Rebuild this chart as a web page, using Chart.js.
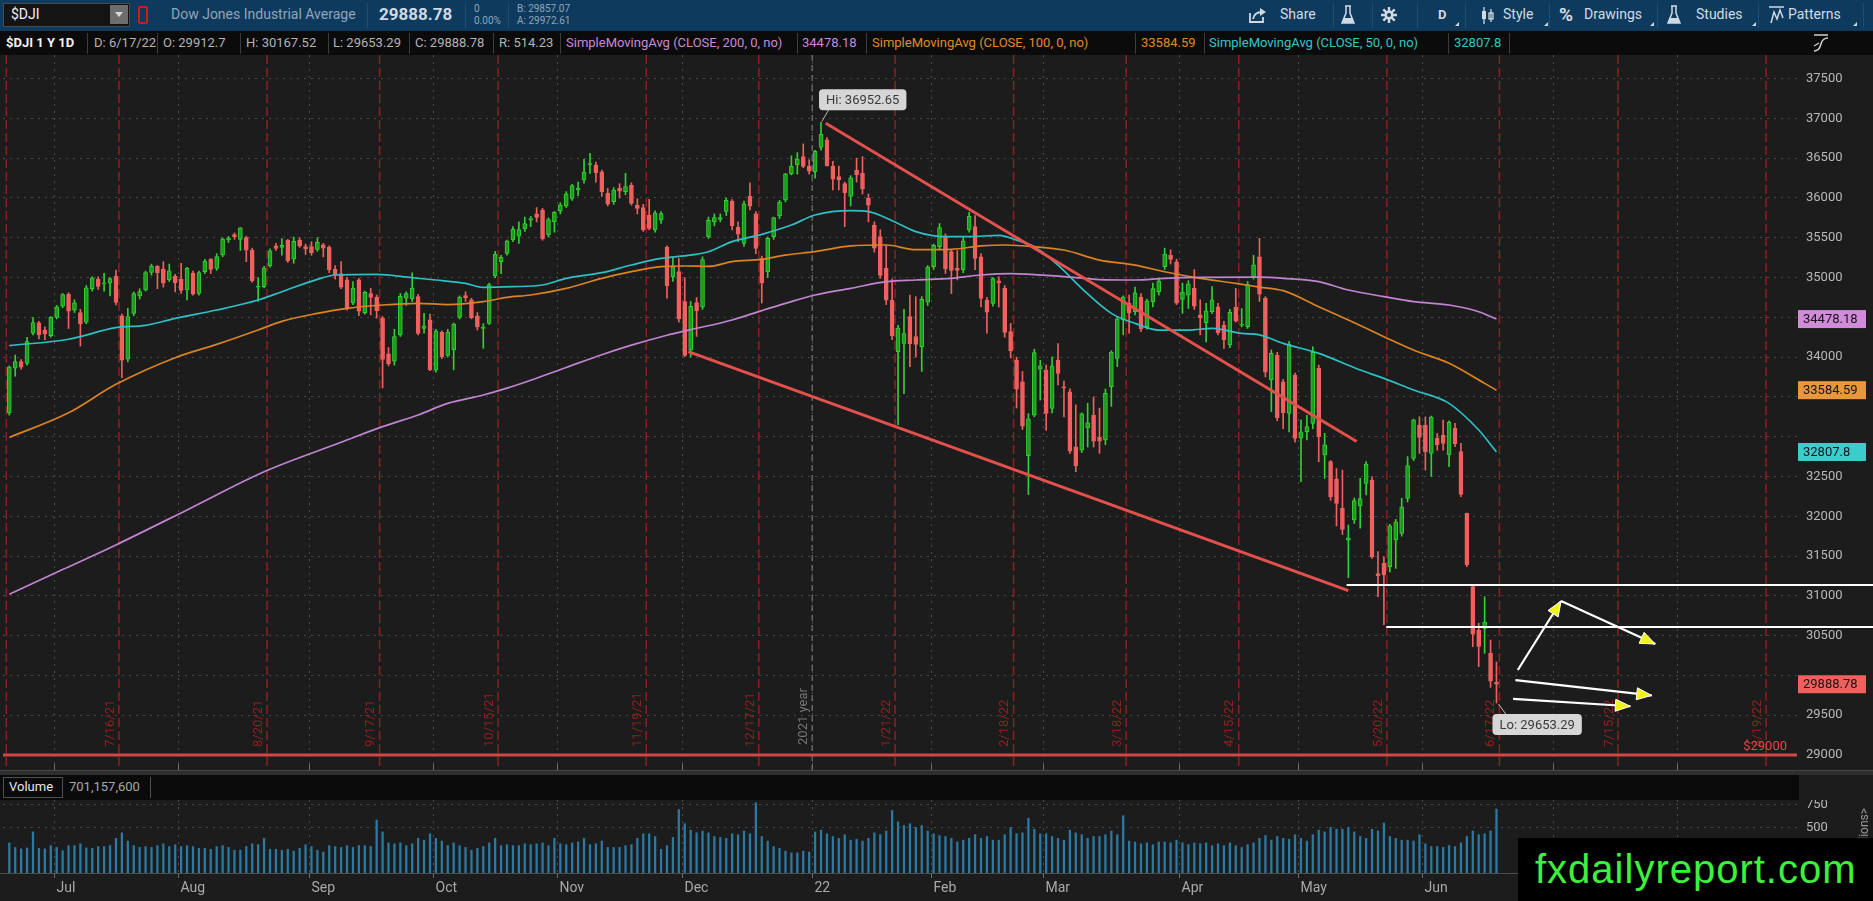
<!DOCTYPE html>
<html>
<head>
<meta charset="utf-8">
<title>$DJI 1 Y 1D</title>
<script src="https://cdn.jsdelivr.net/npm/chart.js"></script>
<style>
  html, body { margin: 0; padding: 0; }
  body { width: 1873px; height: 901px; background: #1c1c1c; overflow: hidden; position: relative;
         font-family: Roboto, "Open Sans", sans-serif; }
  .a { position: absolute; white-space: nowrap; }
  #bar1 { position: absolute; left: 0; top: 0; width: 1873px; height: 31px; background: #0e3a5d; }
  #bar2 { position: absolute; left: 0; top: 31px; width: 1873px; height: 24px; background: #0b0b0b; }
  #bar1 .t { color: #8fa6bc; font-size: 14px; top: 6px; }
  #bar1 .s { color: #8fa6bc; font-size: 10px; }
  #bar1 .r { color: #d2dbe4; font-size: 14px; top: 6px; }
  .sep1 { position: absolute; top: 3px; width: 1px; height: 25px; background: #1f4d72; }
  .tri { position: absolute; top: 22px; width: 0; height: 0; border-left: 4px solid transparent; border-bottom: 4px solid #cfd9e3; }
  #bar2 .c { top: 4px; font-size: 13px; color: #b4b4b4; }
  .sep2 { position: absolute; top: 2px; width: 1px; height: 21px; background: #3c3c3c; }
  #volhead { position: absolute; left: 0; top: 775px; width: 1799px; height: 25px; background: #0a0a0a; }
  #wm { position: absolute; left: 1518px; top: 838px; width: 355px; height: 63px; background: #000;
        color: #3cf23c; font-family: "Liberation Sans", Arial, sans-serif; font-size: 40px; letter-spacing: 1px;
        line-height: 63px; text-indent: 17px; z-index: 5; }
</style>
</head>
<body>

<div id="bar1">
  <div class="a" style="left:3px;top:3px;width:125px;height:22px;background:#141414;border:1px solid #4a4a4a;"></div>
  <span class="a" style="left:11px;top:6px;color:#f0f0f0;font-size:14px;">$DJI</span>
  <div class="a" style="left:110px;top:5px;width:18px;height:19px;background:#6d6d6d;"></div>
  <div class="a" style="left:115px;top:12px;width:0;height:0;border-left:4px solid transparent;border-right:4px solid transparent;border-top:5px solid #d8d8d8;"></div>
  <div class="a" style="left:138px;top:6px;width:6px;height:14px;border:2px solid #c81e1e;border-radius:2px;"></div>
  <span class="a t" style="left:171px;">Dow Jones Industrial Average</span>
  <div class="sep1" style="left:367px"></div>
  <span class="a" style="left:379px;top:4px;color:#cfd9e3;font-size:17px;font-weight:bold;">29888.78</span>
  <div class="sep1" style="left:465px"></div>
  <span class="a s" style="left:474px;top:3px;">0</span>
  <span class="a s" style="left:474px;top:15px;">0.00%</span>
  <div class="sep1" style="left:508px"></div>
  <span class="a s" style="left:517px;top:3px;">B: 29857.07</span>
  <span class="a s" style="left:517px;top:15px;">A: 29972.61</span>

  <svg class="a" style="left:1248px;top:7px" width="20" height="17" viewBox="0 0 20 17">
    <path d="M2 6 V15 H15 V10" stroke="#cfd9e3" stroke-width="1.8" fill="none"/>
    <path d="M5 12 C6 7 9 5 14 5" stroke="#cfd9e3" stroke-width="1.8" fill="none"/>
    <path d="M12 1 L18 5 L12 9 Z" fill="#cfd9e3"/>
  </svg>
  <span class="a r" style="left:1280px;">Share</span>
  <div class="sep1" style="left:1333px"></div>
  <svg class="a" style="left:1341px;top:5px" width="14" height="20" viewBox="0 0 14 20">
    <path d="M4 1 H10 M5 1 V8 L1 18 H13 L9 8 V1" stroke="#cfd9e3" stroke-width="1.5" fill="none"/>
    <path d="M3 13 H11 L13 18 H1 Z" fill="#cfd9e3"/>
  </svg>
  <div class="sep1" style="left:1372px"></div>
  <svg class="a" style="left:1381px;top:7px" width="16" height="16" viewBox="0 0 16 16">
    <g stroke="#cfd9e3" stroke-width="2.4"><path d="M8 0V16M0 8H16M2.3 2.3L13.7 13.7M13.7 2.3L2.3 13.7"/></g>
    <circle cx="8" cy="8" r="4.5" fill="#cfd9e3"/><circle cx="8" cy="8" r="2" fill="#0e3a5d"/>
  </svg>
  <div class="sep1" style="left:1417px"></div>
  <span class="a r" style="left:1438px;font-weight:bold;font-size:13px;top:7px;">D</span>
  <div class="tri" style="left:1455px"></div>
  <div class="sep1" style="left:1465px"></div>
  <svg class="a" style="left:1480px;top:7px" width="16" height="17" viewBox="0 0 16 17">
    <path d="M4 0V17M11 2V15" stroke="#cfd9e3" stroke-width="1.3"/>
    <rect x="2" y="4" width="4" height="8" fill="#cfd9e3"/><rect x="9" y="6" width="4" height="6" fill="none" stroke="#cfd9e3" stroke-width="1.3"/>
  </svg>
  <span class="a r" style="left:1503px;">Style</span>
  <div class="tri" style="left:1544px"></div>
  <div class="sep1" style="left:1549px"></div>
  <span class="a r" style="left:1559px;top:3px;font-size:19px;font-weight:bold;">%</span>
  <span class="a r" style="left:1584px;">Drawings</span>
  <div class="tri" style="left:1650px"></div>
  <div class="sep1" style="left:1657px"></div>
  <svg class="a" style="left:1667px;top:5px" width="14" height="20" viewBox="0 0 14 20">
    <path d="M4 1 H10 M5 1 V8 L1 18 H13 L9 8 V1" stroke="#cfd9e3" stroke-width="1.5" fill="none"/>
    <path d="M3 13 H11 L13 18 H1 Z" fill="#cfd9e3"/>
  </svg>
  <span class="a r" style="left:1696px;">Studies</span>
  <div class="tri" style="left:1752px"></div>
  <div class="sep1" style="left:1758px"></div>
  <svg class="a" style="left:1768px;top:6px" width="17" height="18" viewBox="0 0 17 18">
    <path d="M1 1H16M3 17L6 6L9 13L12 4L15 12" stroke="#cfd9e3" stroke-width="1.5" fill="none"/>
  </svg>
  <span class="a r" style="left:1788px;">Patterns</span>
  <div class="tri" style="left:1853px"></div>
  <div class="sep1" style="left:1863px"></div>
</div>

<div id="bar2">
  <span class="a c" style="left:6px;color:#f2f2f2;font-weight:bold;">$DJI 1 Y 1D</span>
  <div class="sep2" style="left:87px"></div>
  <span class="a c" style="left:94px;">D: 6/17/22</span>
  <div class="sep2" style="left:157px"></div>
  <span class="a c" style="left:163px;">O: 29912.7</span>
  <div class="sep2" style="left:240px"></div>
  <span class="a c" style="left:246px;">H: 30167.52</span>
  <div class="sep2" style="left:328px"></div>
  <span class="a c" style="left:333px;">L: 29653.29</span>
  <div class="sep2" style="left:409px"></div>
  <span class="a c" style="left:415px;">C: 29888.78</span>
  <div class="sep2" style="left:493px"></div>
  <span class="a c" style="left:499px;">R: 514.23</span>
  <div class="sep2" style="left:560px"></div>
  <span class="a c" style="left:566px;color:#c98ad6;">SimpleMovingAvg (CLOSE, 200, 0, no)</span>
  <div class="sep2" style="left:797px"></div>
  <span class="a c" style="left:802px;color:#c98ad6;">34478.18</span>
  <div class="sep2" style="left:866px"></div>
  <span class="a c" style="left:872px;color:#e08a2c;">SimpleMovingAvg (CLOSE, 100, 0, no)</span>
  <div class="sep2" style="left:1135px"></div>
  <span class="a c" style="left:1141px;color:#e08a2c;">33584.59</span>
  <div class="sep2" style="left:1204px"></div>
  <span class="a c" style="left:1209px;color:#36c6c8;">SimpleMovingAvg (CLOSE, 50, 0, no)</span>
  <div class="sep2" style="left:1448px"></div>
  <span class="a c" style="left:1454px;color:#36c6c8;">32807.8</span>
  <div class="sep2" style="left:1509px"></div>
  <svg class="a" style="left:1812px;top:3px" width="18" height="18" viewBox="0 0 18 18">
    <path d="M2 1H16M2 17C6 17 8 14 9 10C10 6 12 4 16 4" stroke="#d0d0d0" stroke-width="1.5" fill="none"/>
    <path d="M2 12L7 9" stroke="#d0d0d0" stroke-width="1.2"/>
  </svg>
</div>

<canvas id="price" class="a" style="left:0;top:55px" width="1873" height="715"></canvas>
<div class="a" style="left:0;top:770px;width:1873px;height:5px;background:#2e2e2e;border-top:1px solid #474747;box-sizing:border-box;"></div>

<div id="volhead">
  <div class="a" style="left:3px;top:2px;width:60px;height:21px;border:1px solid #505050;box-sizing:border-box;"></div>
  <span class="a" style="left:9px;top:4px;color:#e6e6e6;font-size:13px;">Volume</span>
  <span class="a" style="left:69px;top:4px;color:#a8a8a8;font-size:13px;">701,157,600</span>
  <div class="a" style="left:150px;top:2px;width:1px;height:21px;background:#505050;"></div>
</div>
<canvas id="vol" class="a" style="left:0;top:800px" width="1873" height="101"></canvas>

<div id="wm">fxdailyreport.com</div>

<script>
// ---------- data ----------
const sessions = [
  [2021, 6, [21,22,23,24,25,28,29,30]],
  [2021, 7, [1,2,6,7,8,9,12,13,14,15,16,19,20,21,22,23,26,27,28,29,30]],
  [2021, 8, [2,3,4,5,6,9,10,11,12,13,16,17,18,19,20,23,24,25,26,27,30,31]],
  [2021, 9, [1,2,3,7,8,9,10,13,14,15,16,17,20,21,22,23,24,27,28,29,30]],
  [2021, 10, [1,4,5,6,7,8,11,12,13,14,15,18,19,20,21,22,25,26,27,28,29]],
  [2021, 11, [1,2,3,4,5,8,9,10,11,12,15,16,17,18,19,22,23,24,26,29,30]],
  [2021, 12, [1,2,3,6,7,8,9,10,13,14,15,16,17,20,21,22,23,27,28,29,30,31]],
  [2022, 1, [3,4,5,6,7,10,11,12,13,14,18,19,20,21,24,25,26,27,28,31]],
  [2022, 2, [1,2,3,4,7,8,9,10,11,14,15,16,17,18,22,23,24,25,28]],
  [2022, 3, [1,2,3,4,7,8,9,10,11,14,15,16,17,18,21,22,23,24,25,28,29,30,31]],
  [2022, 4, [1,4,5,6,7,8,11,12,13,14,18,19,20,21,22,25,26,27,28,29]],
  [2022, 5, [2,3,4,5,6,9,10,11,12,13,16,17,18,19,20,23,24,25,26,27,31]],
  [2022, 6, [1,2,3,6,7,8,9,10,13,14,15,16,17]]
];
const days = sessions.flatMap(([y, m, ds]) => ds.map(d => m + '/' + d + '/' + String(y).slice(2)));

const opens = [
  33300,33860,33943,33920,34300,34430,34340,34270,34500,34640,
  34790,34590,34560,34440,34860,34980,34920,34930,35019,34520,
  33973,34550,34770,34843,35065,35140,35107,34970,35019,34980,
  34843,35053,34801,35074,35229,35116,35283,35472,35540,35480,
  35501,35346,34880,34885,35145,35400,35380,35470,35230,35470,
  35390,35390,35355,35410,35380,35103,35050,34970,34680,34970,
  34560,34800,34750,34490,34040,33950,34280,34740,34730,34760,
  34360,34470,33840,34310,34020,34089,34500,34775,34720,34520,
  34360,34424,35020,35200,35304,35472,35520,35610,35720,35800,
  35849,35535,35700,35833,35900,35996,36100,36226,36415,36415,
  36330,36060,35954,36120,36080,36160,35912,35880,35786,35600,
  35720,35380,35011,35075,34697,34090,34685,34630,35514,35700,
  35730,35830,35960,35630,35430,36020,35800,35240,35074,35514,
  35774,35975,36301,36414,36520,36400,36330,36636,36730,36400,
  36270,36180,36020,36350,36310,36000,35660,35514,35116,34718,
  34068,34173,34508,34257,34130,34690,35137,35388,35505,35325,
  35116,35100,35598,35640,35262,34718,34676,34960,34864,34320,
  33963,33691,32760,33272,33850,33838,33356,33963,33628,33565,
  32874,32832,33110,33272,32991,32958,33628,33984,34466,34675,
  34571,34751,34382,34697,34822,35136,35283,35199,34726,34780,
  34864,34529,34432,34571,34633,34403,34152,34625,34400,34382,
  35010,35262,34739,33712,34027,33691,33293,33775,32980,33063,
  33168,33859,32770,32686,32470,32100,31700,31953,32129,32414,
  32456,31280,31408,31366,31702,31785,32225,32728,33147,33147,
  32791,32979,33021,32770,33105,32812,32037,31115,30571,30590,
  30277,29912.7
];
const highs = [
  33890,34026,33970,34250,34496,34450,34380,34510,34650,34800,
  34810,34720,34600,34900,35010,35010,35053,35000,35095,34540,
  34613,34820,34860,35080,35170,35150,35200,35170,35040,35180,
  35130,35080,35080,35230,35240,35300,35500,35515,35560,35630,
  35520,35370,35000,35140,35360,35430,35490,35480,35510,35500,
  35420,35450,35500,35430,35400,35150,35200,35000,34950,34990,
  34830,34864,34780,34510,34120,34350,34800,34820,35060,34790,
  34550,34540,34350,34330,34350,34430,34770,34820,34740,34560,
  34420,34930,35330,35280,35470,35640,35700,35760,35770,35880,
  35870,35750,35830,35940,36080,36170,36200,36485,36560,36450,
  36350,36120,36130,36180,36310,36190,35990,35920,35983,35840,
  35830,35400,35250,35240,35000,34700,34750,35260,35760,35800,
  35800,36000,35980,35700,35960,36190,35830,35270,35510,35760,
  35970,36310,36530,36570,36680,36480,36600,36952.65,36760,36460,
  36400,36200,36280,36500,36520,36050,35700,35600,35400,34980,
  34400,34600,34780,34760,34760,35150,35420,35680,35550,35350,
  35340,35500,35820,35780,35300,34750,35000,35010,34900,34424,
  34000,33820,33290,34100,33960,33900,34005,34170,33700,33600,
  33400,33300,33420,33500,33360,33600,34080,34500,34770,34780,
  34880,34800,34730,34930,34990,35370,35350,35230,34930,34960,
  35100,34720,34675,34885,34675,34450,34600,34864,34610,34950,
  35280,35493,34760,34090,34060,33720,34200,33800,33210,33270,
  34130,33900,33042,32700,32600,32580,31890,32230,32476,32686,
  32500,31555,31490,31900,31960,32225,32750,33220,33250,33250,
  33260,33040,33210,33200,33168,32917,32040,31120,30655,30990,
  30444,30167.52
];
const lows = [
  33271,33760,33850,33900,34280,34230,34220,34250,34480,34620,
  34360,34560,34140,34420,34830,34850,34830,34770,34655,33741,
  33940,34520,34730,34830,35030,34860,34880,34950,34820,34800,
  34720,34780,34780,35050,35050,35090,35260,35440,35480,35340,
  35200,34940,34700,34870,35130,35340,35280,35190,35180,35380,
  35290,35280,35330,35260,35060,34980,34860,34590,34660,34520,
  34540,34530,34490,33613,33890,33900,34260,34650,34700,34280,
  34300,33830,33810,33980,34000,33840,34480,34700,34480,34340,
  34110,34410,35000,35050,35280,35450,35430,35580,35640,35700,
  35470,35510,35570,35800,35880,35970,36030,36185,36310,36200,
  36020,35900,35920,36000,36040,35910,35800,35580,35600,35570,
  35680,34740,34950,34440,34006,34000,34260,34600,35490,35650,
  35700,35780,35600,35450,35390,35850,35300,34680,35000,35480,
  35740,35950,36290,36300,36380,36300,36250,36600,36400,36100,
  36100,35640,35900,36200,36050,35700,35320,34990,34660,34220,
  33150,33540,33880,34000,33820,34650,35100,35350,35050,34800,
  34970,35060,35570,35100,34630,34300,34640,34630,34250,33990,
  33360,33090,32272,33250,33460,33080,33300,33650,33250,32790,
  32560,32800,32870,32870,32790,32900,33380,33880,34280,34300,
  34530,34320,34350,34630,34780,35100,35170,34660,34550,34610,
  34600,34280,34190,34550,34280,34110,34120,34440,34380,34360,
  34980,34700,33750,33315,33200,33100,33060,32930,32435,32960,
  33100,32686,32477,32200,31878,31770,31228,31910,31850,32267,
  31470,30990,30636,31300,31345,31750,32180,32700,32790,32580,
  32500,32830,32830,32623,32875,32245,31367,30361,30110,30277,
  29850,29653.29
];
const closes = [
  33876,33945,33874,34196,34433,34283,34292,34502,34633,34786,
  34577,34681,34421,34870,34996,34888,34933,34987,34687,33962,
  34511,34798,34823,35061,35144,35058,34930,35084,34935,34838,
  35116,34792,35064,35208,35101,35264,35484,35499,35515,35625,
  35343,34960,34894,35120,35335,35366,35405,35213,35455,35399,
  35360,35312,35443,35369,35100,35031,34879,34607,34869,34577,
  34814,34751,34584,33970,33919,34258,34764,34798,34869,34299,
  34390,33843,34326,34002,34314,34416,34754,34746,34496,34378,
  34377,34912,35294,35258,35457,35609,35603,35677,35741,35756,
  35490,35730,35819,35913,36052,36157,36124,36327,36432,36319,
  36079,35921,36100,36087,36142,35931,35870,35601,35619,35813,
  35804,34899,35135,34483,34022,34639,34580,35227,35719,35754,
  35754,35971,35650,35544,35927,35897,35365,34932,35492,35753,
  35950,36302,36398,36488,36398,36338,36585,36799,36407,36236,
  36231,36068,36252,36290,36113,35911,35368,35028,34715,34265,
  34364,34297,34168,34160,34725,35131,35405,35629,35111,35089,
  35091,35462,35768,35241,34738,34566,34988,34934,34312,34079,
  33596,33131,33223,34058,33892,33294,33891,33794,33614,32817,
  32632,33286,33174,32944,32945,33544,34063,34480,34754,34553,
  34807,34358,34707,34861,34955,35294,35228,34678,34818,34921,
  34641,34496,34583,34721,34308,34220,34564,34451,34411,34911,
  35160,34792,33811,34049,33240,33301,34160,32977,33061,33128,
  34061,32998,32899,32245,32160,31834,31730,32197,32223,32655,
  31490,31253,31262,31880,31929,32120,32637,33213,32990,32813,
  33248,32900,32916,33180,32911,32273,31393,30517,30365,30669,
  29927,29888.78
];
// volume, millions of shares
const volumes = [
  330,280,265,275,450,270,265,300,280,245,
  300,300,320,275,270,290,290,300,380,440,
  350,300,280,290,280,300,320,290,310,290,
  300,290,270,270,260,290,300,280,250,250,
  290,320,310,380,260,260,250,260,240,270,
  310,290,250,230,300,290,280,300,280,300,
  300,290,580,450,330,320,330,300,320,380,
  360,430,380,350,300,330,300,280,250,270,
  290,330,380,300,310,300,300,320,310,320,
  330,300,380,320,310,330,340,380,310,320,
  350,280,280,280,300,310,380,430,430,400,
  260,300,390,695,540,470,440,460,440,400,
  390,380,430,420,460,430,770,400,350,290,
  270,240,220,220,240,230,450,470,430,400,
  380,420,360,370,350,380,440,420,460,685,
  560,520,540,500,520,460,430,410,400,380,
  340,360,380,420,380,400,360,360,420,500,
  430,440,600,480,430,430,400,380,360,470,
  440,420,380,400,400,420,460,420,628,350,
  340,320,330,310,340,340,330,360,330,310,
  330,320,330,300,320,300,330,300,280,310,
  330,380,410,360,400,380,370,420,380,350,
  420,470,450,500,480,480,500,450,400,380,
  480,460,547,400,380,360,360,350,420,320,
  290,290,280,300,290,330,400,460,420,430,
  460,701.16
];

// moving averages: [bar, value]
const sma200 = [[0,31020],[9,31330],[18,31640],[30,32080],[43,32560],[56,32930],[63,33126],
  [69,33273],[74,33419],[80,33524],[84,33610],[88,33710],[94,33870],[100,34030],[105,34150],[111,34275],
  [115,34345],[122,34467],[127,34585],[131,34676],[136,34781],[142,34865],[148,34948],[153,34969],
  [159,34990],[164,35032],[169,35050],[178,35011],[184,34975],[190,34969],[195,34990],[201,35002],
  [211,35005],[215,34990],[221,34948],[226,34843],[232,34760],[237,34697],[243,34655],[248,34571],[251,34478.18]];
const sma100 = [[0,32990],[10,33300],[18,33658],[28,33993],[35,34160],[42,34341],[46,34450],[52,34550],
  [57,34613],[63,34655],[69,34676],[74,34660],[80,34697],[84,34751],[88,34781],[94,34864],[100,34990],
  [105,35074],[110,35137],[114,35145],[118,35140],[122,35200],[127,35229],[131,35283],[136,35325],
  [142,35397],[148,35409],[153,35350],[159,35355],[164,35397],[168,35409],[173,35388],[178,35346],
  [184,35220],[190,35157],[195,35073],[201,34990],[207,34927],[211,34880],[215,34835],[221,34634],
  [226,34466],[232,34257],[237,34089],[243,33922],[249,33670],[251,33584.59]];
const sma50 = [[0,34145],[10,34225],[18,34370],[23,34400],[28,34487],[35,34592],[42,34718],[46,34822],
  [52,34977],[55,35032],[62,35040],[68,34998],[72,34969],[77,34927],[80,34877],[85,34885],[90,34906],
  [94,34990],[100,35061],[105,35158],[110,35241],[115,35283],[118,35325],[122,35451],[127,35543],
  [132,35660],[136,35786],[142,35840],[145,35828],[149,35715],[153,35577],[158,35514],[162,35514],
  [167,35530],[170,35470],[173,35388],[177,35157],[181,34864],[186,34550],[190,34424],[194,34340],
  [199,34340],[203,34361],[208,34298],[211,34280],[215,34173],[221,34047],[228,33838],[232,33733],
  [237,33587],[243,33419],[248,33084],[251,32807.8]];

// drawings: [bar, price]
const upperTrend = [[137.8, 36940], [227.4, 32940]];
const lowerTrend = [[114.6, 34069], [226, 31065]];
const supportFrom = [225.7, 232.4];
const supportPrice = [31140, 30610];
const arrowPath = [[254.6, 30068], [261.9, 30935], [277.8, 30394]];
const arrowA = [[254.2, 29940], [277.2, 29748]];
const arrowB = [[253.8, 29705], [273.6, 29612]];

// option expiration markers
const expiries = ['6/18/21','7/16/21','8/20/21','9/17/21','10/15/21','11/19/21','12/17/21','1/21/22',
                  '2/18/22','3/18/22','4/15/22','5/20/22','6/17/22','7/15/22','8/19/22'];
const expiryBar = [-1, 18, 43, 62, 82, 107, 126, 149, 169, 188, 207, 232, 251, 271, 296];
const yearBar = 135.5;
const priceLevel = 29000;

// axis
const priceTicks = [29000,29500,30000,30500,31000,31500,32000,32500,33000,33500,34000,34500,35000,35500,36000,36500,37000,37500];
const volTicks = [500, 750];
const monthNames = ['22','Feb','Mar','Apr','May','Jun','Jul','Aug','Sep','Oct','Nov','Dec'];
const futureMonths = [[260.5, 'Jul'], [281.5, 'Aug']];
const markValues = [34478.18, 33584.59, 32807.8, 29888.78];

// ---------- styles ----------
const markColors = ['#d08bd9', '#e9973d', '#3ccccc', '#f2605d'];
const UP = '#1c9c1c', UP_EDGE = '#33cf33', DOWN = '#f0605e';
const X_MIN = -1.063, X_MAX = 301.72;
const FONT = 'Roboto, "Open Sans", sans-serif';

Chart.defaults.font.family = FONT;
Chart.defaults.color = '#b8b8b8';

const monthTicks = [];
for (let i = 1; i < days.length; i++) {
  const m = +days[i].split('/')[0], pm = +days[i - 1].split('/')[0];
  if (m !== pm) monthTicks.push([i - 0.5, monthNames[m - 1]]);
}
futureMonths.forEach(f => monthTicks.push(f));

const isUp = i => closes[i] >= opens[i];
const pts = arr => arr.map(p => ({ x: p[0], y: p[1] }));
// right axis: fixed width, no extra vertical padding
const fitAxis = s => { s.width = 76; s.paddingTop = 0; s.paddingBottom = 0; };

function arrow(ctx, x1, y1, x2, y2, head) {
  ctx.strokeStyle = '#ffffff'; ctx.lineWidth = 2.2; ctx.setLineDash([]);
  ctx.beginPath(); ctx.moveTo(x1, y1); ctx.lineTo(x2, y2); ctx.stroke();
  if (!head) return;
  const a = Math.atan2(y2 - y1, x2 - x1), L = 15, W = 6;
  ctx.beginPath();
  ctx.moveTo(x2, y2);
  ctx.lineTo(x2 - L * Math.cos(a) + W * Math.sin(a), y2 - L * Math.sin(a) - W * Math.cos(a));
  ctx.lineTo(x2 - L * Math.cos(a) - W * Math.sin(a), y2 - L * Math.sin(a) + W * Math.cos(a));
  ctx.closePath();
  ctx.fillStyle = '#f3f31c'; ctx.fill();
  ctx.lineWidth = 1; ctx.stroke();
}

function bubble(ctx, text, left, top) {
  ctx.font = '13px ' + FONT;
  const w = ctx.measureText(text).width + 14, h = 21;
  ctx.fillStyle = '#d6d6d6';
  ctx.beginPath(); ctx.roundRect(left, top, w, h, 4); ctx.fill();
  ctx.fillStyle = '#3a3a3a'; ctx.textAlign = 'left'; ctx.textBaseline = 'middle';
  ctx.fillText(text, left + 7, top + h / 2 + 1);
}

const priceDeco = {
  id: 'priceDeco',
  beforeDatasetsDraw(chart) {
    const { ctx, chartArea: a, scales: { x, y } } = chart;
    ctx.save();
    ctx.beginPath(); ctx.rect(a.left, a.top, a.right - a.left, a.bottom - a.top); ctx.clip();
    // month grid
    ctx.strokeStyle = '#4a4a4a'; ctx.lineWidth = 1; ctx.setLineDash([2, 5]);
    monthTicks.forEach(t => {
      const px = Math.round(x.getPixelForValue(t[0])) + 0.5;
      ctx.beginPath(); ctx.moveTo(px, a.top); ctx.lineTo(px, a.bottom); ctx.stroke();
    });
    const y29 = y.getPixelForValue(priceLevel);
    // expiration lines
    ctx.strokeStyle = '#8d2020'; ctx.lineWidth = 1.5; ctx.setLineDash([9, 4]);
    expiryBar.forEach(b => {
      const px = x.getPixelForValue(b + 0.5);
      ctx.beginPath(); ctx.moveTo(px, a.top); ctx.lineTo(px, a.bottom); ctx.stroke();
    });
    ctx.setLineDash([]);
    ctx.font = '13px ' + FONT; ctx.fillStyle = '#8d2222';
    expiries.forEach((lab, k) => {
      if (k === 0) return;
      const px = x.getPixelForValue(expiryBar[k] + 0.5);
      ctx.save(); ctx.translate(px - 2, y29 - 8); ctx.rotate(-Math.PI / 2);
      ctx.textAlign = 'left'; ctx.textBaseline = 'bottom'; ctx.fillText(lab, 0, 0);
      ctx.restore();
    });
    // year separator
    const yx = x.getPixelForValue(yearBar);
    ctx.strokeStyle = '#858585'; ctx.lineWidth = 1; ctx.setLineDash([6, 4]);
    ctx.beginPath(); ctx.moveTo(yx, a.top); ctx.lineTo(yx, a.bottom); ctx.stroke();
    ctx.setLineDash([]);
    ctx.save(); ctx.translate(yx - 2, y29 - 10); ctx.rotate(-Math.PI / 2);
    ctx.fillStyle = '#767676'; ctx.textAlign = 'left'; ctx.textBaseline = 'bottom';
    ctx.fillText('2021 year', 0, 0); ctx.restore();
    // price level line
    ctx.strokeStyle = '#d44646'; ctx.lineWidth = 3;
    ctx.beginPath(); ctx.moveTo(a.left, y29); ctx.lineTo(a.right, y29); ctx.stroke();
    // month ticks at pane bottom
    ctx.strokeStyle = '#6a6a6a'; ctx.lineWidth = 1;
    monthTicks.forEach(t => {
      const px = Math.round(x.getPixelForValue(t[0])) + 0.5;
      ctx.beginPath(); ctx.moveTo(px, a.bottom - 6); ctx.lineTo(px, a.bottom); ctx.stroke();
    });
    ctx.restore();
  },
  afterDatasetsDraw(chart) {
    const { ctx, chartArea: a, scales: { x, y } } = chart;
    ctx.save();
    // support lines to the right edge
    ctx.strokeStyle = '#ffffff'; ctx.lineWidth = 2;
    supportFrom.forEach((b, k) => {
      const py = Math.round(y.getPixelForValue(supportPrice[k]));
      ctx.beginPath(); ctx.moveTo(x.getPixelForValue(b), py); ctx.lineTo(chart.width, py); ctx.stroke();
    });
    // arrows
    const P = p => [x.getPixelForValue(p[0]), y.getPixelForValue(p[1])];
    const p0 = P(arrowPath[0]), p1 = P(arrowPath[1]), p2 = P(arrowPath[2]);
    arrow(ctx, p1[0], p1[1], p2[0], p2[1], true);
    arrow(ctx, p0[0], p0[1], p1[0], p1[1], true);
    const a1 = P(arrowA[0]), a2 = P(arrowA[1]);
    arrow(ctx, a1[0], a1[1], a2[0], a2[1], true);
    const b1 = P(arrowB[0]), b2 = P(arrowB[1]);
    arrow(ctx, b1[0], b1[1], b2[0], b2[1], true);
    // high / low bubbles
    const hiVal = Math.max(...highs), hiIdx = highs.indexOf(hiVal);
    const loVal = Math.min(...lows), loIdx = lows.indexOf(loVal);
    const hx = x.getPixelForValue(hiIdx), hy = y.getPixelForValue(hiVal);
    ctx.strokeStyle = '#bdbdbd'; ctx.lineWidth = 1;
    ctx.beginPath(); ctx.moveTo(hx + 1, hy - 1); ctx.lineTo(hx + 8, hy - 13); ctx.stroke();
    bubble(ctx, 'Hi: ' + hiVal.toFixed(2), hx - 2, hy - 33);
    const lx = x.getPixelForValue(loIdx), ly = y.getPixelForValue(loVal);
    ctx.beginPath(); ctx.moveTo(lx + 2, ly + 1); ctx.lineTo(lx + 10, ly + 12); ctx.stroke();
    bubble(ctx, 'Lo: ' + loVal.toFixed(2), lx - 4, ly + 11);
    // price level label
    const y29 = y.getPixelForValue(priceLevel);
    ctx.font = '13px ' + FONT; ctx.fillStyle = '#e04a4a'; ctx.textAlign = 'right'; ctx.textBaseline = 'bottom';
    ctx.fillText('$' + priceLevel, a.right - 10, y29 - 2);
    // axis markers
    markValues.forEach((v, k) => {
      const py = y.getPixelForValue(v);
      ctx.fillStyle = markColors[k];
      ctx.fillRect(a.right + 1, py - 9, 68, 18);
      ctx.fillStyle = '#151515'; ctx.textAlign = 'left'; ctx.textBaseline = 'middle';
      ctx.fillText(String(v), a.right + 6, py + 1);
    });
    ctx.restore();
  }
};

new Chart(document.getElementById('price'), {
  type: 'bar',
  data: {
    datasets: [
      { type: 'line', data: pts(upperTrend), borderColor: '#e4504c', borderWidth: 3, pointRadius: 0, order: 1 },
      { type: 'line', data: pts(lowerTrend), borderColor: '#e4504c', borderWidth: 3, pointRadius: 0, order: 1 },
      { type: 'line', data: pts(sma200), borderColor: '#c184d0', borderWidth: 1.7, pointRadius: 0, cubicInterpolationMode: 'monotone', order: 3 },
      { type: 'line', data: pts(sma100), borderColor: '#d98324', borderWidth: 1.7, pointRadius: 0, cubicInterpolationMode: 'monotone', order: 3 },
      { type: 'line', data: pts(sma50), borderColor: '#2fbfc4', borderWidth: 1.7, pointRadius: 0, cubicInterpolationMode: 'monotone', order: 3 },
      { data: days.map((d, i) => ({ x: i, y: [lows[i], highs[i]] })), barThickness: 1, grouped: false,
        backgroundColor: c => isUp(c.dataIndex) ? UP_EDGE : DOWN, order: 10 },
      { data: days.map((d, i) => ({ x: i, y: [opens[i], closes[i]] })), barThickness: 4, grouped: false, minBarLength: 1,
        backgroundColor: c => isUp(c.dataIndex) ? UP : DOWN,
        borderColor: c => isUp(c.dataIndex) ? UP_EDGE : DOWN, borderWidth: 1, borderSkipped: false, order: 9 }
    ]
  },
  options: {
    responsive: false, animation: false, events: [],
    layout: { padding: { left: 3, right: 0, top: 0, bottom: 0 } },
    plugins: { legend: { display: false }, tooltip: { enabled: false } },
    scales: {
      x: { type: 'linear', min: X_MIN, max: X_MAX, offset: false, display: false },
      y: {
        position: 'right', min: 28811, max: 37797,
        afterFit: fitAxis,
        afterBuildTicks: s => { s.ticks = priceTicks.map(v => ({ value: v })); },
        ticks: { padding: 9, color: '#b8b8b8', font: { size: 13 },
                 callback: v => markValues.some(m => Math.abs(m - v) < 200) ? '' : String(v) },
        grid: { color: '#474747', drawTicks: false },
        border: { display: false, dash: [2, 5] }
      }
    }
  },
  plugins: [priceDeco]
});

const volDeco = {
  id: 'volDeco',
  beforeDatasetsDraw(chart) {
    const { ctx, chartArea: a, scales: { x } } = chart;
    ctx.save();
    ctx.strokeStyle = '#4a4a4a'; ctx.lineWidth = 1; ctx.setLineDash([2, 5]);
    monthTicks.forEach(t => {
      const px = Math.round(x.getPixelForValue(t[0])) + 0.5;
      ctx.beginPath(); ctx.moveTo(px, a.top); ctx.lineTo(px, a.bottom); ctx.stroke();
    });
    ctx.restore();
  },
  afterDraw(chart) {
    const { ctx, chartArea: a, scales: { x } } = chart;
    ctx.save();
    ctx.strokeStyle = '#4d4d4d'; ctx.lineWidth = 1;
    ctx.beginPath(); ctx.moveTo(0, a.bottom + 0.5); ctx.lineTo(chart.width, a.bottom + 0.5); ctx.stroke();
    ctx.font = '14px ' + FONT; ctx.fillStyle = '#a9a9a9'; ctx.textAlign = 'left'; ctx.textBaseline = 'middle';
    monthTicks.forEach(t => {
      const px = Math.round(x.getPixelForValue(t[0])) + 0.5;
      ctx.strokeStyle = '#6a6a6a';
      ctx.beginPath(); ctx.moveTo(px, a.bottom); ctx.lineTo(px, a.bottom + 5); ctx.stroke();
      ctx.fillText(t[1], px + 2, a.bottom + 15);
    });
    ctx.save(); ctx.translate(chart.width - 2, 8); ctx.rotate(-Math.PI / 2);
    ctx.font = '12px ' + FONT; ctx.fillStyle = '#9a9a9a'; ctx.textAlign = 'right'; ctx.textBaseline = 'bottom';
    ctx.fillText('<Volume in millions>', 0, 0); ctx.restore();
    ctx.restore();
  }
};

new Chart(document.getElementById('vol'), {
  type: 'bar',
  data: {
    datasets: [{ data: days.map((d, i) => ({ x: i, y: volumes[i] })), backgroundColor: '#2b7aa4', barThickness: 1.6 }]
  },
  options: {
    responsive: false, animation: false, events: [],
    layout: { padding: { left: 3, right: 0, top: 0, bottom: 28 } },
    plugins: { legend: { display: false }, tooltip: { enabled: false } },
    scales: {
      x: { type: 'linear', min: X_MIN, max: X_MAX, offset: false, display: false },
      y: {
        position: 'right', min: 0, max: 800,
        afterFit: fitAxis,
        afterBuildTicks: s => { s.ticks = volTicks.map(v => ({ value: v })); },
        ticks: { padding: 9, color: '#b8b8b8', font: { size: 13 }, callback: v => String(v) },
        grid: { color: '#474747', drawTicks: false },
        border: { display: false, dash: [2, 5] }
      }
    }
  },
  plugins: [volDeco]
});
</script>
</body>
</html>
